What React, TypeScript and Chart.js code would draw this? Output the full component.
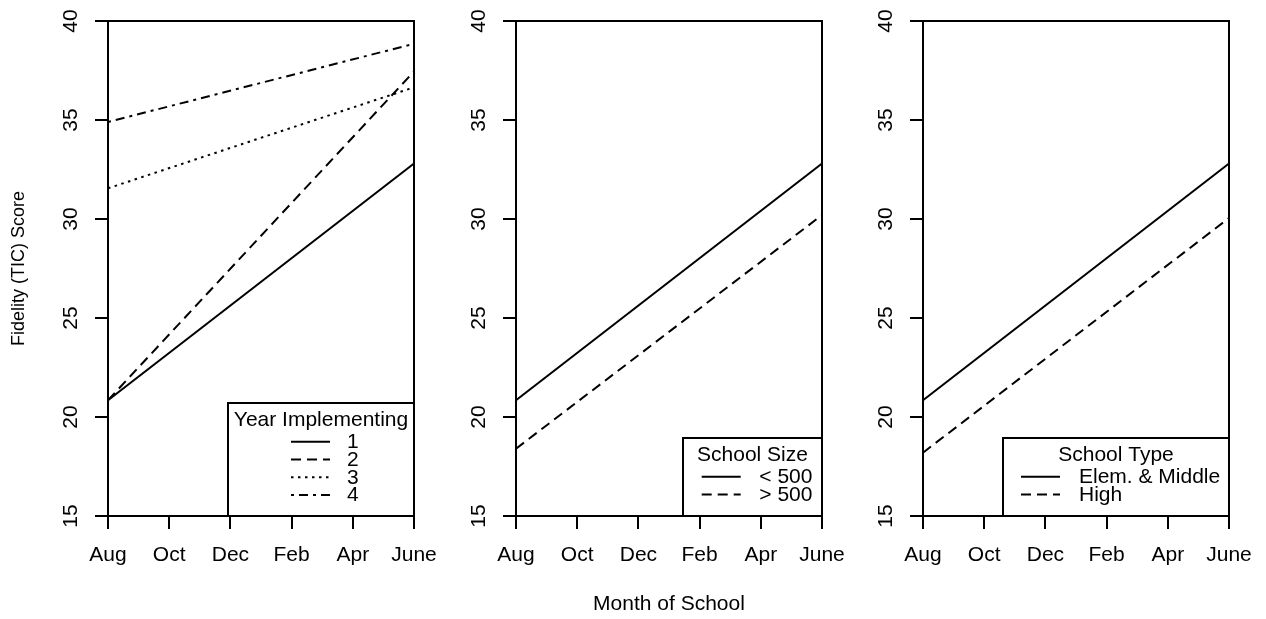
import React, { useEffect, useRef } from 'react';
import { Chart, registerables } from 'chart.js';

Chart.register(...registerables);

const FONT = "'Liberation Sans', Arial, Helvetica, sans-serif";

// ---- data ----
const monthLabels = ['Aug', 'Oct', 'Dec', 'Feb', 'Apr', 'June'];
const monthTicks = [0, 2, 4, 6, 8, 10];
const scoreTicks = [15, 20, 25, 30, 35, 40];
const lineMonths = [0, 10]; // Aug -> June

const yearTitle = 'Year Implementing';
const yearLabels = ['1', '2', '3', '4'];
const year1 = [20.85, 32.8];
const year2 = [20.85, 37.45];
const year3 = [31.55, 36.65];
const year4 = [34.9, 38.85];

const sizeTitle = 'School Size';
const sizeLabels = ['< 500', '> 500'];
const sizeSmall = [20.85, 32.8];
const sizeLarge = [18.4, 30.2];

const typeTitle = 'School Type';
const typeLabels = ['Elem. & Middle', 'High'];
const typeElemMiddle = [20.85, 32.8];
const typeHigh = [18.2, 30.05];

const yTitle = 'Fidelity (TIC) Score';
const xTitle = 'Month of School';

// ---- styles ----
const DASH: Record<string, number[]> = {
  solid: [],
  dashed: [10, 6],
  dotted: [2.5, 4.5],
  dotdash: [3, 5, 9, 5],
};

const PLOT_W = 306;
const RIGHT_PAD = 45;
const TOP = 21;
const XAXIS_H = 103;

type Series = { label: string; values: number[]; dash: number[] };
type Panel = {
  plotLeft: number;
  yAxisWidth: number;
  showYTitle: boolean;
  showXTitle: boolean;
  series: Series[];
  legendTitle: string;
  legend: { w: number; h: number; lineStart: number; textX: number };
};

const panels: Panel[] = [
  {
    plotLeft: 108,
    yAxisWidth: 108,
    showYTitle: true,
    showXTitle: false,
    series: [
      { label: yearLabels[0], values: year1, dash: DASH.solid },
      { label: yearLabels[1], values: year2, dash: DASH.dashed },
      { label: yearLabels[2], values: year3, dash: DASH.dotted },
      { label: yearLabels[3], values: year4, dash: DASH.dotdash },
    ],
    legendTitle: yearTitle,
    legend: { w: 186, h: 113, lineStart: 63, textX: 119 },
  },
  {
    plotLeft: 516,
    yAxisWidth: 80,
    showYTitle: false,
    showXTitle: true,
    series: [
      { label: sizeLabels[0], values: sizeSmall, dash: DASH.solid },
      { label: sizeLabels[1], values: sizeLarge, dash: DASH.dashed },
    ],
    legendTitle: sizeTitle,
    legend: { w: 139, h: 78, lineStart: 18.7, textX: 76.3 },
  },
  {
    plotLeft: 923,
    yAxisWidth: 80,
    showYTitle: false,
    showXTitle: false,
    series: [
      { label: typeLabels[0], values: typeElemMiddle, dash: DASH.solid },
      { label: typeLabels[1], values: typeHigh, dash: DASH.dashed },
    ],
    legendTitle: typeTitle,
    legend: { w: 226, h: 78, lineStart: 18, textX: 76 },
  },
];

function framePlugin(p: Panel) {
  return {
    id: 'frameLegend',
    afterDraw(chart: any) {
      const { ctx } = chart;
      const { left, top, right, bottom } = chart.chartArea;
      ctx.save();
      ctx.strokeStyle = '#000';
      ctx.lineWidth = 2;
      ctx.setLineDash([]);
      ctx.beginPath();
      ctx.moveTo(left, top);
      ctx.lineTo(right, top);
      ctx.lineTo(right, bottom);
      ctx.stroke();

      // legend box
      const L = p.legend;
      const bx = right - L.w;
      const by = bottom - L.h;
      ctx.fillStyle = '#fff';
      ctx.fillRect(bx, by, L.w, L.h);
      ctx.lineWidth = 2;
      ctx.strokeRect(bx, by, L.w, L.h);

      ctx.fillStyle = '#000';
      ctx.font = `21px ${FONT}`;
      ctx.textBaseline = 'middle';
      ctx.textAlign = 'center';
      ctx.fillText(p.legendTitle, bx + L.w / 2, by + 17.7);

      ctx.textAlign = 'left';
      p.series.forEach((s, i) => {
        const y = by + 38.8 + i * 17.7;
        ctx.beginPath();
        ctx.setLineDash(s.dash);
        ctx.lineWidth = 2;
        ctx.moveTo(bx + L.lineStart, y);
        ctx.lineTo(bx + L.lineStart + 39, y);
        ctx.stroke();
        ctx.setLineDash([]);
        ctx.fillText(s.label, bx + L.textX, y + 0.7);
      });
      ctx.restore();
    },
  };
}

function buildConfig(p: Panel): any {
  const tickFont = { family: FONT, size: 21 };
  return {
    type: 'line',
    data: {
      datasets: p.series.map((s) => ({
        label: s.label,
        data: lineMonths.map((m, k) => ({ x: m, y: s.values[k] })),
        borderColor: '#000',
        borderWidth: 2,
        borderDash: s.dash,
        pointRadius: 0,
        fill: false,
        tension: 0,
      })),
    },
    options: {
      responsive: false,
      animation: false,
      devicePixelRatio: 1,
      events: [],
      layout: { padding: { left: 0, top: TOP, right: RIGHT_PAD, bottom: 0 } },
      plugins: {
        legend: { display: false },
        tooltip: { enabled: false },
        title: { display: false },
      },
      scales: {
        x: {
          type: 'linear',
          min: 0,
          max: 10,
          afterBuildTicks: (s: any) => {
            s.ticks = monthTicks.map((v) => ({ value: v }));
          },
          afterFit: (s: any) => {
            s.height = XAXIS_H;
            s.paddingLeft = 0;
            s.paddingRight = 0;
          },
          ticks: {
            callback: (v: any) => monthLabels[monthTicks.indexOf(Number(v))] ?? '',
            font: tickFont,
            color: '#000',
            padding: 14,
            maxRotation: 0,
            minRotation: 0,
            autoSkip: false,
          },
          grid: { drawOnChartArea: false, drawTicks: true, tickLength: 13, lineWidth: 2, color: '#000' },
          border: { display: true, color: '#000', width: 2 },
          title: {
            display: p.showXTitle,
            text: xTitle,
            color: '#000',
            font: { family: FONT, size: 21 },
            padding: { top: 0, bottom: 2 },
          },
        },
        y: {
          type: 'linear',
          min: 15,
          max: 40,
          afterBuildTicks: (s: any) => {
            s.ticks = scoreTicks.map((v) => ({ value: v }));
          },
          afterFit: (s: any) => {
            s.width = p.yAxisWidth;
            s.paddingTop = 0;
            s.paddingBottom = 0;
          },
          ticks: {
            callback: (v: any) => String(v),
            font: tickFont,
            color: '#000',
            padding: 12,
            minRotation: 90,
            maxRotation: 90,
            crossAlign: 'center',
            autoSkip: false,
          },
          grid: { drawOnChartArea: false, drawTicks: true, tickLength: 13, lineWidth: 2, color: '#000' },
          border: { display: true, color: '#000', width: 2 },
          title: {
            display: p.showYTitle,
            text: yTitle,
            color: '#000',
            font: { family: FONT, size: 18 },
            padding: { top: 8, bottom: 0 },
          },
        },
      },
    },
    plugins: [framePlugin(p)],
  };
}

export default function App() {
  const refs = useRef<(HTMLCanvasElement | null)[]>([]);

  useEffect(() => {
    const charts = panels.map((p, i) => new Chart(refs.current[i] as HTMLCanvasElement, buildConfig(p)));
    return () => charts.forEach((c) => c.destroy());
  }, []);

  return (
    <div
      style={{
        position: 'absolute',
        left: 0,
        top: 0,
        width: 1266,
        height: 619,
        background: '#fff',
        overflow: 'hidden',
      }}
    >
      {panels.map((p, i) => {
        const w = p.yAxisWidth + PLOT_W + RIGHT_PAD;
        return (
          <canvas
            key={i}
            ref={(el) => {
              refs.current[i] = el;
            }}
            width={w}
            height={619}
            style={{ position: 'absolute', left: p.plotLeft - p.yAxisWidth, top: 0, width: w, height: 619 }}
          />
        );
      })}
    </div>
  );
}
